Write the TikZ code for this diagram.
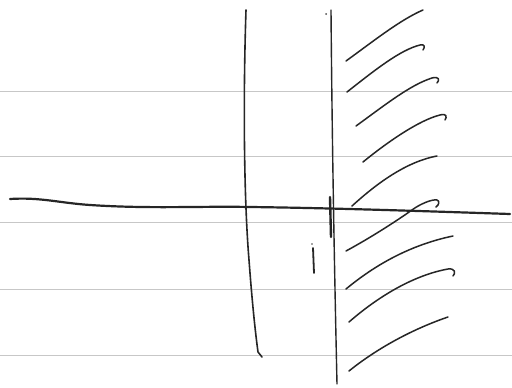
\documentclass[tikz,border=0pt]{standalone}
\begin{document}
\begin{tikzpicture}[x=1pt,y=-1pt,
  rule/.style={draw=black!22,line width=0.9pt},
  pen/.style={draw=black!85,line width=1.6pt,line cap=round,line join=round},
  hatch/.style={draw=black!85,line width=1.5pt,line cap=round,line join=round}]
\useasboundingbox (0,0) rectangle (512,388);
\fill[white] (0,0) rectangle (512,388);
% ruled paper lines
\foreach \yy in {91,156,222,289,355} \draw[rule] (0,\yy) -- (512,\yy);
% horizontal axis
\draw[pen,line width=2.2pt] (10,199) .. controls (40,197) and (60,203) .. (90,205)
  .. controls (150,209) and (200,206) .. (250,207)
  .. controls (330,208) and (420,211) .. (510,214);
% left vertical line
\draw[pen] (246,10) .. controls (243,100) and (244,200) .. (249,260)
  .. controls (252,300) and (255,330) .. (258,352) -- (262,357);
% right vertical line
\draw[pen,line width=1.4pt] (331,10) .. controls (332,130) and (334,250) .. (337,384);
\fill[black!70] (326,14) circle (1pt);
% thick short stroke at crossing
\draw[pen,line width=2.4pt] (330,197) -- (331,237);
% small mark
\draw[pen,line width=1.8pt] (313,248) -- (314,273);
\fill[black!70] (312,244) circle (0.9pt);
% hatching strokes
\draw[hatch] (346,61) .. controls (375,40) and (400,20) .. (423,10);
\draw[hatch] (347,92) .. controls (375,70) and (400,50) .. (420,45) .. controls (425,44) and (425,47) .. (423,50);
\draw[hatch] (356,126) .. controls (385,105) and (410,85) .. (432,78) .. controls (439,76) and (440,80) .. (437,83);
\draw[hatch] (363,162) .. controls (390,140) and (420,120) .. (440,115) .. controls (447,113) and (447,117) .. (445,120);
\draw[hatch] (352,206) .. controls (375,185) and (405,162) .. (437,156);
\draw[hatch] (346,251) .. controls (370,238) and (395,222) .. (412,210) .. controls (420,204) and (432,199) .. (437,200) .. controls (440,201) and (439,205) .. (436,207);
\draw[hatch] (346,289) .. controls (375,265) and (410,245) .. (453,236);
\draw[hatch] (349,322) .. controls (380,295) and (415,275) .. (448,269) .. controls (455,268) and (456,273) .. (453,276);
\draw[hatch] (349,371) .. controls (375,350) and (410,330) .. (448,317);
\end{tikzpicture}
\end{document}
